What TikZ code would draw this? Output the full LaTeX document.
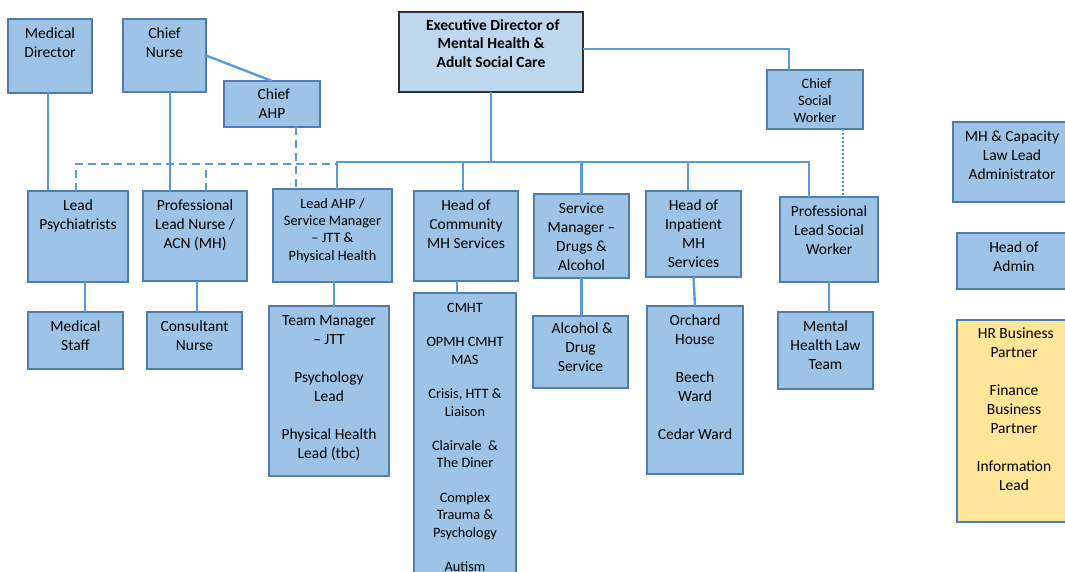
\documentclass[tikz,border=0pt]{standalone}
\usepackage{fontspec}
\setmainfont{Carlito}
\definecolor{bfill}{HTML}{9DC3E6}
\definecolor{bord}{HTML}{4F7DB0}
\definecolor{efill}{HTML}{BDD7EE}
\definecolor{eline}{HTML}{303030}
\definecolor{yfill}{HTML}{FFE699}
\definecolor{conn}{HTML}{5B9BD5}
\newcommand\fsA{\fontsize{15.5}{19}\selectfont}
\newcommand\fsB{\fontsize{14.3}{17.3}\selectfont}
\newcommand\fsE{\fontsize{15.5}{18.5}\selectfont\bfseries}
\newcommand\tp[1][19]{\rule{0pt}{#1pt}}
\tikzset{
  box/.style={draw=bord, fill=bfill, line width=1.2pt, inner sep=0pt, outer sep=0pt, anchor=north west},
  lbl/.style={anchor=north, inner sep=0pt, align=center, font=\fsA},
  lblsmall/.style={lbl, font=\fsB},
  cline/.style={draw=conn, line width=2.4pt},
  dline/.style={cline, dash pattern=on 8pt off 5pt},
  dotline/.style={draw=conn, line width=2pt, dash pattern=on 2pt off 2pt},
}
\begin{document}
\begin{tikzpicture}[x=1pt, y=-1pt]
\useasboundingbox (0,0) rectangle (1065,572);
\clip (0,0) rectangle (1065,572);
\fill[white] (0,0) rectangle (1065,572);
% top row
\node[box, minimum width=84, minimum height=74, label={[lbl]north:{\tp Medical\\Director}}] (md) at (8,19) {};
\node[box, minimum width=83, minimum height=73, label={[lbl]north:{\tp Chief\\Nurse}}] (cn) at (123,19) {};
\node[box, minimum width=96, minimum height=46, label={[lbl]north:{\tp[18] Chief\\AHP}}] (ahp) at (224,81) {};
\node[box, fill=efill, draw=eline, minimum width=184, minimum height=80, label={[lbl, font=\fsE]north:{\tp[18] Executive Director of\\Mental Health \&\\Adult Social Care}}] (ed) at (399,12) {};
\node[box, minimum width=96, minimum height=59, label={[lblsmall]north:{\tp[18] Chief\\Social\\Worker}}] (csw) at (767,70) {};
% second row
\node[box, minimum width=100, minimum height=91, label={[lbl]north:{\tp Lead\\Psychiatrists}}] (lp) at (28,191) {};
\node[box, minimum width=104, minimum height=90, label={[lbl]north:{\tp Professional\\Lead Nurse /\\ACN (MH)}}] (pln) at (143,191) {};
\node[box, minimum width=119, minimum height=93, label={[lblsmall]north:{\tp Lead AHP /\\Service Manager\\– JTT \&\\Physical Health}}] (lahp) at (273,189) {};
\node[box, minimum width=104, minimum height=90, label={[lbl]north:{\tp Head of\\Community\\MH Services}}] (hcmh) at (414,191) {};
\node[box, minimum width=95, minimum height=84, label={[lbl]north:{\tp Service\\Manager –\\Drugs \&\\Alcohol}}] (smda) at (534,194) {};
\node[box, minimum width=95, minimum height=86, label={[lbl]north:{\tp Head of\\Inpatient\\MH\\Services}}] (him) at (646,191) {};
\node[box, minimum width=98, minimum height=85, label={[lbl]north:{\tp Professional\\Lead Social\\Worker}}] (plsw) at (780,197) {};
% third row
\node[box, minimum width=95, minimum height=57, label={[lbl]north:{\tp Medical\\Staff}}] (ms) at (28,312) {};
\node[box, minimum width=95, minimum height=57, label={[lbl]north:{\tp Consultant\\Nurse}}] (cnur) at (147,312) {};
\node[box, minimum width=120, minimum height=170, label={[lbl]north:{\tp Team Manager\\– JTT\\[19pt]Psychology\\Lead\\[19pt]Physical Health\\Lead (tbc)}}] (tm) at (269,306) {};
\node[box, minimum width=102, minimum height=310, label={[lblsmall]north:{\tp CMHT\\[17.3pt]OPMH CMHT\\MAS\\[17.3pt]Crisis, HTT \&\\Liaison\\[17.3pt]Clairvale \ \&\\The Diner\\[17.3pt]Complex\\Trauma \&\\Psychology\\[17.3pt]Autism}}] (cmht) at (414,293) {};
\node[box, minimum width=95, minimum height=72, label={[lbl]north:{\tp[17] Alcohol \&\\Drug\\Service}}] (adsv) at (533,316) {};
\node[box, minimum width=96, minimum height=168, label={[lbl]north:{\tp Orchard\\House\\[19pt]Beech\\Ward\\[19pt]Cedar Ward}}] (orch) at (647,306) {};
\node[box, minimum width=95, minimum height=77, label={[lbl]north:{\tp Mental\\Health Law\\Team}}] (mhlt) at (778,312) {};
% right column
\node[box, minimum width=118, minimum height=80, label={[lbl]north:{\tp MH \& Capacity\\Law Lead\\Administrator}}] (mhcl) at (953,122) {};
\node[box, minimum width=114, minimum height=56, label={[lbl]north:{\tp Head of\\Admin}}] (hoa) at (957,233) {};
\node[box, fill=yfill, minimum width=114, minimum height=202, label={[lbl]north:{\tp[18] HR Business\\Partner\\[19pt]Finance\\Business\\Partner\\[19pt]Information\\Lead}}] (hr) at (957,320) {};
% connectors
\coordinate (dh) at (337,164);
\coordinate (busR) at (809,162);
\draw[cline] ([xshift=-2pt]md.south) -- ([xshift=-2pt]md.south |- lp.north);
\draw[cline] ([xshift=5.5pt]cn.south) -- ([xshift=5.5pt]cn.south |- pln.north);
\draw[cline] (cn.east) -- (ahp.north);
\draw[dline] ([xshift=24pt]ahp.south) -- ([xshift=24pt]ahp.south |- lahp.north);
\draw[dline] ([xshift=-2pt]lp.north) |- (dh);
\draw[dline] ([xshift=11pt]pln.north) -- ([xshift=11pt]pln.north |- dh);
\draw[cline] ([xshift=4.5pt]lahp.north) |- (busR) -- ([xshift=-20pt]plsw.north);
\draw[cline] (ed.south) -- (ed.south |- busR);
\draw[cline] ([xshift=-3pt]hcmh.north) -- ([xshift=-3pt]hcmh.north |- busR);
\draw[cline] (smda.north) -- (smda.north |- busR);
\draw[cline] ([xshift=-5.5pt]him.north) -- ([xshift=-5.5pt]him.north |- busR);
\draw[cline] ([yshift=3pt]ed.east) -| ([xshift=-26pt]csw.north);
\draw[dotline] ([xshift=28pt]csw.south) -- ([xshift=28pt]csw.south |- plsw.north);
\draw[cline] ([xshift=7pt]lp.south) -- ([xshift=7pt]lp.south |- ms.north);
\draw[cline] ([xshift=2pt]pln.south) -- ([xshift=2pt]pln.south |- cnur.north);
\draw[cline] ([xshift=1.5pt]lahp.south) -- ([xshift=1.5pt]lahp.south |- tm.north);
\draw[cline] ([xshift=-9pt]hcmh.south) -- ([xshift=-9pt]hcmh.south |- cmht.north);
\draw[cline] (smda.south) -- (smda.south |- adsv.north);
\draw[cline] (him.south) -- (orch.north);
\draw[cline] (plsw.south) -- (plsw.south |- mhlt.north);
\end{tikzpicture}
\end{document}
